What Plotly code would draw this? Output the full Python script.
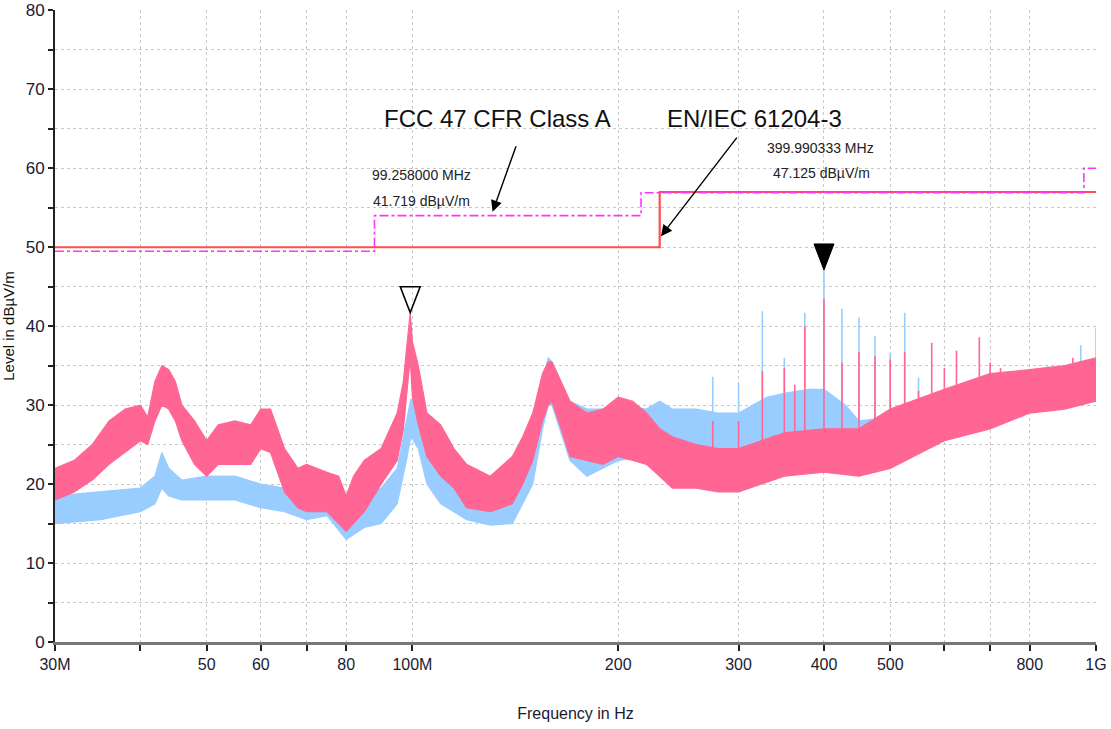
import numpy as np
import plotly.graph_objects as go

# ---------------- data (MHz / dBuV/m) ----------------
pink_f = [30, 32, 34, 36, 38, 40, 41, 42, 43, 44, 45, 46, 48, 50, 52, 55, 58, 60, 62, 65, 68, 70, 75, 78, 80,
          82, 85, 90, 95, 97, 98, 99.258, 100, 102, 105, 110, 115, 120, 130, 140, 145, 150, 155, 158, 160,
          165, 170, 180, 190, 200, 210, 220, 230, 240, 260, 280, 300, 350, 400, 450, 500, 600, 700, 800, 900, 1000]
pink_hi = [22, 23, 25, 28, 29.5, 30, 28.5, 33, 35, 34.5, 33, 30, 28, 25.5, 27.5, 28, 27.5, 29.5, 29.5, 24.5, 22, 22.5, 21.5, 21, 18.5,
           21, 23, 24.5, 29, 33, 37, 41.7, 38, 35, 29, 27.5, 24.5, 22.5, 21, 23.5, 26, 29, 34, 35.5, 35.5,
           33, 30.5, 29, 29.5, 31, 30.5, 29, 27, 26, 25, 24.5, 24.5, 26.5, 27, 27, 29.5, 32, 34, 34.5, 35, 36]
pink_lo = [18, 19, 20.5, 22.5, 24, 25.5, 25, 28, 30, 29.5, 28, 25.5, 22.5, 21, 22.5, 22.5, 22.5, 24.5, 24, 19, 17, 16.5, 16.5, 15, 14,
           15, 16.5, 20, 23, 27, 30.5, 36, 31, 27.5, 23.5, 21, 19.5, 17, 16.5, 17.5, 20, 23, 28, 30, 30.5,
           27, 23.5, 23, 22.5, 23.5, 23, 22.5, 21, 19.5, 19.5, 19, 19, 21, 21.5, 21, 22, 25.5, 27, 29, 29.5, 30.5]

blue_f = [30, 35, 40, 42, 43, 44, 46, 50, 55, 60, 65, 70, 75, 80, 85, 90, 95, 98, 99.5, 102, 105, 110, 115, 120,
          130, 140, 150, 155, 158, 160, 170, 180, 190, 200, 220, 230, 240, 260, 280, 300, 330, 350, 380, 400,
          430, 450, 500, 600, 700, 800, 1000]
blue_hi = [18.5, 19, 19.5, 21, 24, 22, 20.5, 21, 21, 20, 19.5, 20, 20, 17, 18.5, 19.5, 22, 28, 30.8, 29.5, 25.5, 22, 20, 18.5,
           18, 19.5, 25, 33, 36, 35.5, 30.5, 29.5, 29.5, 30, 29.5, 30.5, 29.5, 29.5, 29, 29, 31, 31.5, 32, 32,
           30, 28, 28.5, 31, 33, 34, 35]
blue_lo = [15, 15.5, 16.5, 17.5, 19.5, 18.5, 18, 18, 18, 17, 16.5, 15.5, 16, 13, 14.5, 15, 17.5, 23, 26, 24.5, 20, 17.5, 16.5, 15.5,
           14.8, 15, 20, 27, 30, 30, 23, 21, 22, 23, 23.5, 24, 23.5, 23.5, 23.5, 23.5, 24.5, 24.5, 25, 26,
           23.5, 22.5, 23, 26, 27.5, 29.5, 31]

blue_spike_f = [275, 300, 325, 350, 362.5, 375, 399.990333, 425, 450, 475, 500, 525, 550, 850, 950, 1000]
blue_spike_top = [33.6, 32.8, 41.9, 36, 30, 41.7, 47.125, 42.2, 41.1, 38.8, 36.5, 41.7, 33.5, 35, 37.6, 39.8]
pink_spike_f = [275, 300, 325, 350, 362.5, 375, 399.990333, 425, 450, 475, 500, 525, 550, 575, 600, 625, 675, 700,
                725, 750, 925, 1000]
pink_spike_top = [28, 28, 34.3, 34.7, 32.6, 40, 43.4, 35.4, 36.7, 36.2, 35.8, 36.7, 31.8, 37.9, 34.7, 36.9, 38.6, 35.4,
                  34.7, 33.7, 36, 35.8]

en_f = [30, 230, 1000]
en_lvl = [50, 57, 57]
fcc_f = [30, 88, 216, 960, 1000]
fcc_lvl = [49.5, 54, 56.9, 60, 60]

marker1 = (99.258, 41.719)
marker2 = (399.990333, 47.125)

x_tickvals = [30, 40, 50, 60, 70, 80, 100, 200, 300, 400, 500, 600, 700, 800, 1000]
x_ticktext = ["30M", "", "50", "60", "", "80", "100M", "200", "300", "400", "500", "", "", "800", "1G"]

PINK = "#FF6693"
BLUE = "#99CCFF"
NARROW = "Liberation Sans Narrow, Arial Narrow, Liberation Sans, Arial, sans-serif"
SANS = "Liberation Sans, Arial, sans-serif"
TXT = "#1a1a33"

M = 1e6
fig = go.Figure()


def band(f, hi, lo, color):
    f = np.asarray(f) * M
    xs = np.concatenate([f, f[::-1]])
    ys = np.concatenate([np.asarray(hi, float), np.asarray(lo, float)[::-1]])
    return go.Scatter(x=xs, y=ys, fill="toself", fillcolor=color, mode="lines",
                      line=dict(color=color, width=1.2), hoverinfo="skip", showlegend=False)


def spikes(f, top, base_f, base_lo, color):
    xs, ys = [], []
    for fi, ti in zip(f, top):
        b = float(np.interp(np.log10(fi), np.log10(base_f), base_lo))
        xs += [fi * M, fi * M, None]
        ys += [b, ti, None]
    return go.Scatter(x=xs, y=ys, mode="lines", line=dict(color=color, width=1.6),
                      hoverinfo="skip", showlegend=False)


fig.add_trace(band(blue_f, blue_hi, blue_lo, BLUE))
fig.add_trace(spikes(blue_spike_f, blue_spike_top, pink_f, pink_lo, BLUE))
fig.add_trace(band(pink_f, pink_hi, pink_lo, PINK))
fig.add_trace(spikes(pink_spike_f, pink_spike_top, pink_f, pink_lo, PINK))

fig.add_trace(go.Scatter(x=np.asarray(en_f) * M, y=en_lvl, mode="lines", line_shape="hv",
                         line=dict(color="#FF4D4D", width=2.2), showlegend=False))
fig.add_trace(go.Scatter(x=np.asarray(fcc_f) * M, y=fcc_lvl, mode="lines", line_shape="hv",
                         line=dict(color="#FF33FF", width=1.6, dash="dashdot"), showlegend=False))

# marker triangles (tip at the marker value)
fig.add_shape(type="path", xref="x", yref="y", xsizemode="pixel", ysizemode="pixel",
              xanchor=marker1[0] * M, yanchor=marker1[1], path="M -10 26 L 10 26 L 0 0 Z",
              line=dict(color="black", width=1.5), fillcolor="rgba(0,0,0,0)")
fig.add_shape(type="path", xref="x", yref="y", xsizemode="pixel", ysizemode="pixel",
              xanchor=marker2[0] * M, yanchor=marker2[1], path="M -10 26 L 10 26 L 0 0 Z",
              line=dict(color="black", width=1), fillcolor="black")

lg = lambda v: np.log10(v * M)

ann = []
ann.append(dict(x=lg(133), y=66.3, text="FCC 47 CFR Class A", showarrow=False,
                font=dict(family=SANS, size=24, color="#111")))
ann.append(dict(x=lg(317), y=66.3, text="EN/IEC 61204-3", showarrow=False,
                font=dict(family=SANS, size=24, color="#111")))
ann.append(dict(x=lg(131), y=54.5, text="", showarrow=True, ax=24, ay=-67, arrowhead=2,
                arrowsize=1.6, arrowwidth=1.4, arrowcolor="black"))
ann.append(dict(x=lg(231), y=51.4, text="", showarrow=True, ax=77, ay=-100, arrowhead=2,
                arrowsize=1.6, arrowwidth=1.4, arrowcolor="black"))
lab_font = dict(family=NARROW, size=14, color="#222")
ann.append(dict(x=lg(86.7), y=59.1, text=f"{marker1[0]:.6f} MHz", showarrow=False,
                xanchor="left", font=lab_font))
ann.append(dict(x=lg(86.9), y=55.9, text=f"{marker1[1]:.3f} dBµV/m", showarrow=False,
                xanchor="left", font=lab_font))
ann.append(dict(x=lg(396), y=62.6, text=f"{marker2[0]:.6f} MHz", showarrow=False,
                xanchor="center", font=lab_font))
ann.append(dict(x=lg(397), y=59.4, text=f"{marker2[1]:.3f} dBµV/m", showarrow=False,
                xanchor="center", font=lab_font))

fig.update_layout(
    width=1111, height=729,
    margin=dict(l=55, r=15, t=10, b=87),
    paper_bgcolor="white", plot_bgcolor="white",
    showlegend=False,
    annotations=ann,
    xaxis=dict(type="log", range=[np.log10(30 * M), np.log10(1000 * M)],
               tickvals=[v * M for v in x_tickvals], ticktext=x_ticktext,
               automargin=False,
               showgrid=True, gridcolor="#c8c8c8", griddash="dot", gridwidth=1,
               showline=True, linecolor="#777", linewidth=3,
               ticks="outside", ticklen=6, tickwidth=1.5, tickcolor="#222",
               tickfont=dict(family=NARROW, size=16, color=TXT),
               title=dict(text="Frequency in Hz", font=dict(family=NARROW, size=16, color=TXT),
                          standoff=36),
               zeroline=False),
    yaxis=dict(range=[0, 80.05], tickvals=list(range(0, 81, 10)),
               automargin=False,
               showgrid=True, gridcolor="#c8c8c8", griddash="dot", gridwidth=1,
               minor=dict(tickvals=list(range(5, 81, 10)), showgrid=True, gridcolor="#c8c8c8", griddash="dot",
                          ticks="outside", ticklen=5, tickcolor="#222"),
               showline=True, linecolor="#222", linewidth=2,
               ticks="outside", ticklen=5, tickwidth=1.5, tickcolor="#222",
               tickfont=dict(family=NARROW, size=17, color=TXT),
               title=dict(text="Level in dBµV/m", font=dict(family=SANS, size=15, color="#111"),
                          standoff=12),
               zeroline=False),
)

fig.write_html("out.html")
